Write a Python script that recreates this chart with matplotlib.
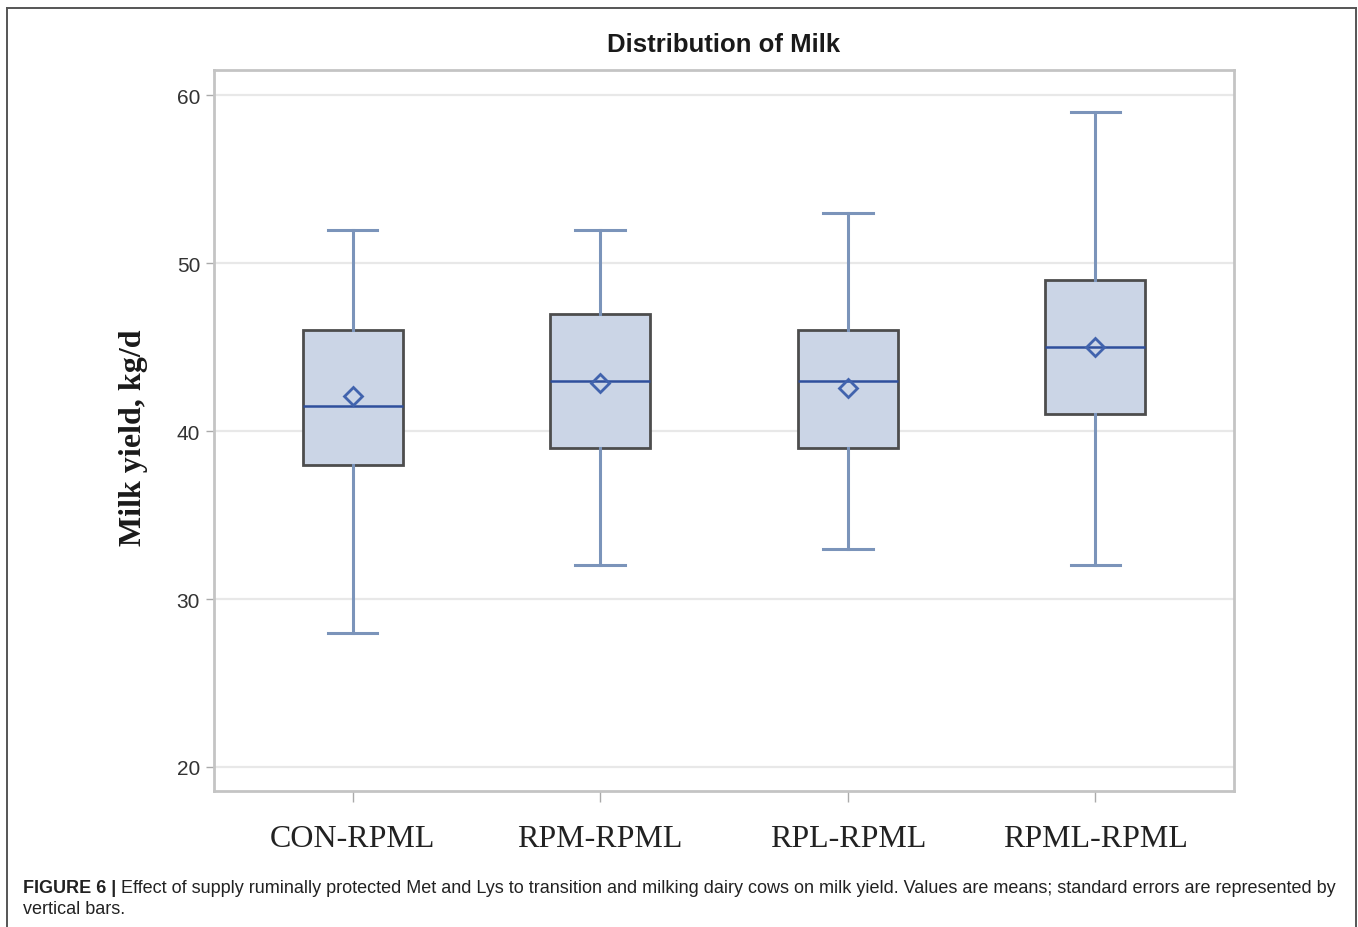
import matplotlib.pyplot as plt
from matplotlib.lines import Line2D

# milk yield summary per treatment (kg/d)
groups = ["CON-RPML", "RPM-RPML", "RPL-RPML", "RPML-RPML"]
whisker_low = [28, 32, 33, 32]
q1 = [38, 39, 39, 41]
medians = [41.5, 43, 43, 45]
q3 = [46, 47, 46, 49]
whisker_high = [52, 52, 53, 59]
means = [42.1, 42.85, 42.55, 45.0]
y_ticks = [20, 30, 40, 50, 60]

stats = []
for i, name in enumerate(groups):
    stats.append({
        "label": name,
        "whislo": whisker_low[i],
        "q1": q1[i],
        "med": medians[i],
        "q3": q3[i],
        "whishi": whisker_high[i],
        "mean": means[i],
        "fliers": [],
    })

W, H = 1358, 928
fig = plt.figure(figsize=(W / 100, H / 100), dpi=100)
ax = fig.add_axes([214 / W, (H - 792) / H, 1020 / W, 721 / H])

box_edge = "#4d4d4d"
whisk_col = "#7b94ba"
ax.bxp(
    stats,
    positions=range(len(groups)),
    widths=0.404,
    patch_artist=True,
    showmeans=True,
    boxprops=dict(facecolor="#cbd5e6", edgecolor=box_edge, linewidth=2),
    whiskerprops=dict(color=whisk_col, linewidth=2.2),
    capprops=dict(color=whisk_col, linewidth=2.2),
    capwidths=0.2,
    medianprops=dict(color="#2f4f9c", linewidth=1.8),
    meanprops=dict(marker="D", markersize=9, markerfacecolor="none",
                   markeredgecolor="#4163ad", markeredgewidth=2),
    zorder=3,
)

ax.set_xlim(-0.56, 3.56)
ax.set_ylim(18.57, 61.5)
ax.set_yticks(y_ticks)
ax.set_yticklabels([str(v) for v in y_ticks], fontsize=15,
                   family="Liberation Sans", color="#333333")
ax.set_xticks(range(len(groups)))
ax.set_xticklabels(groups, fontsize=23, family="Liberation Serif", color="#222222")
ax.tick_params(axis="y", length=6, width=1, color="#aaaaaa", pad=4)
ax.tick_params(axis="x", length=8, width=1, color="#aaaaaa", pad=16)
ax.yaxis.grid(True, color="#e8e8e8", linewidth=1.6, zorder=0)
ax.set_axisbelow(True)
for side in ax.spines.values():
    side.set_color("#c4c4c4")
    side.set_linewidth(2)

ax.set_ylabel("Milk yield, kg/d", fontsize=23, family="Liberation Serif",
              fontweight="bold", color="#1a1a1a")
ax.yaxis.set_label_coords((148 - 214) / 1020, (792 - 438) / 721)
fig.text(724 / W, 1 - 45 / H, "Distribution of Milk", ha="center", va="center",
         fontsize=18.5, fontweight="bold", family="Liberation Sans", color="#1a1a1a")

# outer frame (open at the bottom)
frame_kw = dict(color="#555555", linewidth=1.4, transform=fig.transFigure)
fig.add_artist(Line2D([7 / W, 7 / W], [0, 1 - 9 / H], **frame_kw))
fig.add_artist(Line2D([1356 / W, 1356 / W], [0, 1 - 9 / H], **frame_kw))
fig.add_artist(Line2D([7 / W, 1356 / W], [1 - 9 / H, 1 - 9 / H], **frame_kw))

# caption
cap_size = 13
renderer = fig.canvas.get_renderer()
head = fig.text(23 / W, 1 - 889 / H, "FIGURE 6 | ", ha="left", va="center",
                fontsize=cap_size, fontweight="bold", family="Liberation Sans",
                color="#222222")
bb = head.get_window_extent(renderer)
fig.text(bb.x1 / W, 1 - 889 / H,
         "Effect of supply ruminally protected Met and Lys to transition and milking "
         "dairy cows on milk yield. Values are means; standard errors are represented by",
         ha="left", va="center", fontsize=cap_size, family="Liberation Sans",
         color="#222222")
fig.text(23 / W, 1 - 910 / H, "vertical bars.", ha="left", va="center",
         fontsize=cap_size, family="Liberation Sans", color="#222222")

fig.savefig("out.png", dpi=100)
